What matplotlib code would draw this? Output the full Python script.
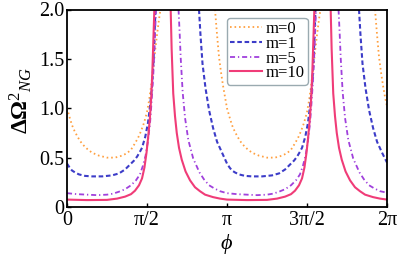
import numpy as np
import matplotlib
matplotlib.use('Agg')
import matplotlib.pyplot as plt

plt.rcParams['font.family'] = ['Liberation Serif', 'DejaVu Serif']
plt.rcParams['mathtext.fontset'] = 'custom'
plt.rcParams['mathtext.rm'] = 'Liberation Serif'
plt.rcParams['mathtext.it'] = 'Liberation Serif:italic'
plt.rcParams['mathtext.bf'] = 'Liberation Serif:bold'

nan = np.nan
# phi in units of pi ; NaN separates pieces that leave the plot range
phi_m0 = [0, 0.016, 0.031, 0.047, 0.063, 0.081, 0.1, 0.125, 0.156, 0.2, 0.25, 0.3, 0.344, 0.375, 0.4, 0.425,
          0.444, 0.463, 0.481, 0.5, 0.513, 0.525, 0.538, 0.55, 0.563, 0.575, 0.584, nan,
          0.925, 0.938, 0.95, 0.963, 0.975, 0.988,
          1.0, 1.016, 1.031, 1.047, 1.063, 1.081, 1.1, 1.125, 1.156, 1.2, 1.25, 1.3, 1.344, 1.375, 1.4, 1.425,
          1.444, 1.463, 1.481, 1.5, 1.513, 1.525, 1.538, 1.55, 1.563, 1.575, 1.584, nan,
          1.925, 1.938, 1.95, 1.963, 1.975, 1.988, 2.0]
val_m0 = [1.0, 0.91, 0.83, 0.77, 0.72, 0.67, 0.63, 0.59, 0.55, 0.52, 0.50, 0.50, 0.52, 0.545, 0.58, 0.645,
          0.70, 0.77, 0.85, 0.96, 1.08, 1.22, 1.39, 1.57, 1.75, 1.9, 2.0, nan,
          2.0, 1.74, 1.52, 1.36, 1.23, 1.11,
          1.0, 0.91, 0.83, 0.77, 0.72, 0.67, 0.63, 0.59, 0.55, 0.52, 0.50, 0.50, 0.52, 0.545, 0.58, 0.645,
          0.70, 0.77, 0.85, 0.96, 1.08, 1.22, 1.39, 1.57, 1.75, 1.9, 2.0, nan,
          2.0, 1.74, 1.52, 1.36, 1.23, 1.11, 1.02]

phi_m1 = [0, 0.016, 0.031, 0.05, 0.075, 0.113, 0.156, 0.219, 0.281, 0.325, 0.363, 0.394, 0.419, 0.438,
          0.456, 0.469, 0.489, 0.506, 0.521, 0.53, 0.538, 0.545, 0.553, nan,
          0.825, 0.834, 0.847, 0.866, 0.888, 0.913, 0.938, 0.969,
          1.0, 1.016, 1.031, 1.05, 1.075, 1.113, 1.156, 1.219, 1.281, 1.325, 1.363, 1.394, 1.419, 1.438,
          1.456, 1.469, 1.489, 1.506, 1.521, 1.53, 1.538, 1.545, 1.553, nan,
          1.825, 1.834, 1.847, 1.866, 1.888, 1.913, 1.938, 1.969, 2.0]
val_m1 = [0.44, 0.40, 0.37, 0.35, 0.33, 0.315, 0.31, 0.31, 0.32, 0.34, 0.38, 0.43, 0.47, 0.51,
          0.56, 0.60, 0.71, 0.85, 1.05, 1.2, 1.4, 1.65, 2.0, nan,
          2.0, 1.75, 1.45, 1.2, 0.98, 0.8, 0.66, 0.55,
          0.44, 0.40, 0.37, 0.35, 0.33, 0.315, 0.31, 0.31, 0.32, 0.34, 0.38, 0.43, 0.47, 0.51,
          0.56, 0.60, 0.71, 0.85, 1.05, 1.2, 1.4, 1.65, 2.0, nan,
          2.0, 1.75, 1.45, 1.2, 0.98, 0.8, 0.66, 0.55, 0.45]

phi_m5 = [0, 0.063, 0.125, 0.188, 0.25, 0.288, 0.325, 0.363, 0.4, 0.431, 0.456, 0.475, 0.491, 0.505,
          0.519, 0.528, 0.538, 0.547, 0.556, nan,
          0.697, 0.703, 0.711, 0.723, 0.738, 0.758, 0.789, 0.828, 0.856, 0.888, 0.919, 0.956,
          1.0, 1.063, 1.125, 1.188, 1.25, 1.288, 1.325, 1.363, 1.4, 1.431, 1.456, 1.475, 1.491, 1.505,
          1.519, 1.528, 1.538, 1.547, 1.556, nan,
          1.697, 1.703, 1.711, 1.723, 1.738, 1.758, 1.789, 1.828, 1.856, 1.888, 1.919, 1.956, 2.0]
val_m5 = [0.14, 0.13, 0.125, 0.12, 0.125, 0.135, 0.155, 0.18, 0.22, 0.27, 0.33, 0.42, 0.52, 0.66,
          0.85, 1.05, 1.3, 1.6, 2.0, nan,
          2.0, 1.8, 1.5, 1.16, 0.9, 0.68, 0.49, 0.35, 0.28, 0.22, 0.19, 0.16,
          0.14, 0.13, 0.125, 0.12, 0.125, 0.135, 0.155, 0.18, 0.22, 0.27, 0.33, 0.42, 0.52, 0.66,
          0.85, 1.05, 1.3, 1.6, 2.0, nan,
          2.0, 1.8, 1.5, 1.16, 0.9, 0.68, 0.49, 0.35, 0.28, 0.22, 0.19, 0.16, 0.145]

phi_m10 = [0, 0.125, 0.25, 0.313, 0.363, 0.4, 0.425, 0.45, 0.469, 0.484, 0.497, 0.508, 0.518, 0.526,
           0.533, 0.539, 0.546, nan,
           0.648, 0.654, 0.664, 0.675, 0.686, 0.7, 0.717, 0.741, 0.769, 0.8, 0.831, 0.863, 0.913, 0.956,
           1.0, 1.125, 1.25, 1.313, 1.363, 1.4, 1.425, 1.45, 1.469, 1.484, 1.497, 1.508, 1.518, 1.526,
           1.533, 1.539, 1.546, nan,
           1.648, 1.654, 1.664, 1.675, 1.686, 1.7, 1.717, 1.741, 1.769, 1.8, 1.831, 1.863, 1.913, 1.956, 2.0]
val_m10 = [0.075, 0.07, 0.072, 0.085, 0.105, 0.13, 0.165, 0.22, 0.29, 0.40, 0.55, 0.72, 0.9, 1.1,
           1.35, 1.65, 2.0, nan,
           2.0, 1.6, 1.15, 0.92, 0.75, 0.6, 0.48, 0.36, 0.27, 0.2, 0.16, 0.125, 0.10, 0.085,
           0.075, 0.07, 0.072, 0.085, 0.105, 0.13, 0.165, 0.22, 0.29, 0.40, 0.55, 0.72, 0.9, 1.1,
           1.35, 1.65, 2.0, nan,
           2.0, 1.6, 1.15, 0.92, 0.75, 0.6, 0.48, 0.36, 0.27, 0.2, 0.16, 0.125, 0.10, 0.085, 0.075]

labels = ['m=0', 'm=1', 'm=5', 'm=10']
colors = ['#FFA040', '#3C3CC8', '#A040DC', '#F03C78']
xtick_pos = [0, 0.5, 1.0, 1.5, 2.0]
xtick_labels = ['0', 'π/2', 'π', '3π/2', '2π']
ytick_pos = [0, 0.5, 1.0, 1.5, 2.0]
ytick_labels = ['0', '0.5', '1.0', '1.5', '2.0']

fig = plt.figure(figsize=(3.99, 2.56), dpi=100)
ax = fig.add_axes([67/399, 1-207/256, 320/399, 197.5/256])

ax.plot(np.array(phi_m0)*np.pi, val_m0, color=colors[0], lw=1.3, ls=(0, (0.9, 1.6)), label=labels[0])
ax.plot(np.array(phi_m1)*np.pi, val_m1, color=colors[1], lw=1.5, ls=(0, (2.2, 1.3)), label=labels[1])
ax.plot(np.array(phi_m5)*np.pi, val_m5, color=colors[2], lw=1.3, ls=(0, (2.8, 1.6, 0.7, 1.6)), label=labels[2])
ax.plot(np.array(phi_m10)*np.pi, val_m10, color=colors[3], lw=1.5, ls='-', label=labels[3])

ax.set_xlim(0, 2*np.pi)
ax.set_ylim(0, 2.0)
ax.set_xticks(np.array(xtick_pos)*np.pi)
ax.set_xticklabels(xtick_labels)
ax.set_yticks(ytick_pos)
ax.set_yticklabels(ytick_labels)
ax.tick_params(direction='in', length=3, width=1, labelsize=14.5, pad=2)
ax.tick_params(axis='x', pad=3)
for s in ax.spines.values():
    s.set_linewidth(1.3)

ax.set_ylabel(r'$\mathbf{\Delta\Omega}^{2}{}_{NG}$', fontsize=17)
ax.yaxis.set_label_coords(-0.103, 0.54)
ax.set_xlabel(r'$\phi$', fontsize=16)
ax.xaxis.set_label_coords(0.5, -0.125)

leg = ax.legend(loc='upper left', bbox_to_anchor=(0.5, 0.957), fontsize=12, labelspacing=-0.08,
                handlelength=1.9, handletextpad=0.2, borderpad=0.2, borderaxespad=0,
                fancybox=True, framealpha=1, edgecolor='#9AAAB0')
leg.get_frame().set_linewidth(1.0)

fig.savefig('out.png', dpi=100)
